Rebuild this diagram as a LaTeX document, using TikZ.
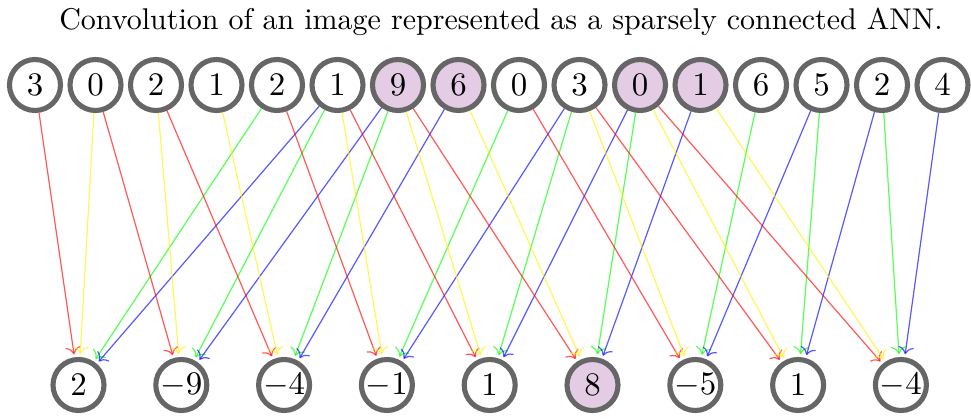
\documentclass[tikz,border=0pt]{standalone}
\usetikzlibrary{arrows.meta}
\begin{document}
\begin{tikzpicture}[x=0.33333pt,y=-0.33333pt,
  neuron/.style={circle,draw=black!60,line width=1.7pt,minimum size=17pt,inner sep=0pt,font=\fontsize{11}{13}\selectfont},
  hl/.style={fill=violet!20},
  conn/.style={->,line width=0.4pt,opacity=0.65,shorten >=1pt},
  cr/.style={conn,red},
  cy/.style={conn,yellow},
  cg/.style={conn,green},
  cb/.style={conn,blue}]
\useasboundingbox (0,0) rectangle (971,419);
\node (title) at (501,22) {Convolution of an image represented as a sparsely connected ANN.};
\foreach \v [count=\i from 0] in {3,0,2,1,2,1,9,6,0,3,0,1,6,5,2,4} {
  \ifnum\i=6 \def\st{hl}\else\ifnum\i=7 \def\st{hl}\else\ifnum\i=10 \def\st{hl}\else\ifnum\i=11 \def\st{hl}\else\def\st{}\fi\fi\fi\fi
  \node[neuron,\st] (in\i) at ({35+60.5*\i},85) {$\v$};
}
\foreach \v [count=\i from 0] in {2,-9,-4,-1,1,8,-5,1,-4} {
  \ifnum\i=5 \def\st{hl}\else\def\st{}\fi
  \node[neuron,\st] (out\i) at ({78.5+102.8*\i},385) {$\v$};
}
\foreach \r in {0,1,2} {
  \foreach \c in {0,1,2} {
    \pgfmathtruncatemacro{\o}{3*\r+\c}
    \pgfmathtruncatemacro{\a}{4*\r+\c}
    \pgfmathtruncatemacro{\b}{4*\r+\c+1}
    \pgfmathtruncatemacro{\d}{4*\r+\c+4}
    \pgfmathtruncatemacro{\e}{4*\r+\c+5}
    \draw[cr] (in\a) -- (out\o);
    \draw[cy] (in\b) -- (out\o);
    \draw[cg] (in\d) -- (out\o);
    \draw[cb] (in\e) -- (out\o);
  }
}
\end{tikzpicture}
\end{document}
